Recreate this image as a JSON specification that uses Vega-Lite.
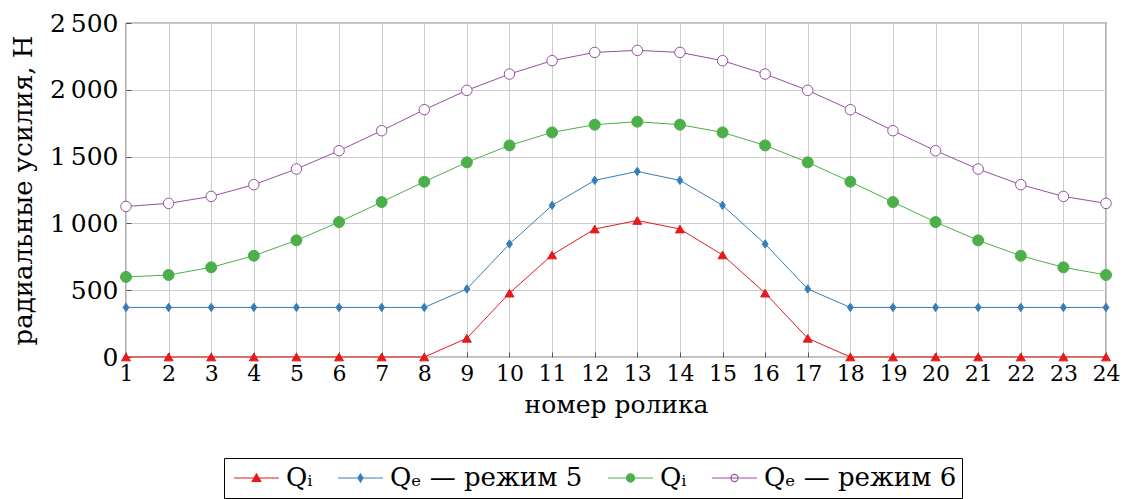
{
  "$schema": "https://vega.github.io/schema/vega-lite/v6.json",
  "width": 980,
  "height": 334,
  "autosize": {"type": "none"},
  "padding": {"left": 126, "top": 23, "right": 17, "bottom": 142},
  "background": "white",
  "config": {
    "font": "DejaVu Serif",
    "view": {"stroke": "black", "strokeWidth": 1.2},
    "axis": {
      "labelFont": "DejaVu Serif",
      "titleFont": "DejaVu Serif",
      "titleFontWeight": "normal",
      "labelColor": "black",
      "titleColor": "black",
      "gridColor": "#cccccc",
      "gridWidth": 1,
      "domain": false,
      "ticks": true,
      "tickSize": -5,
      "tickColor": "#555555",
      "tickWidth": 1
    },
    "legend": {
      "labelFont": "DejaVu Serif",
      "labelFontSize": 26,
      "labelColor": "black"
    }
  },
  "data": {
    "values": [
      {"x": 1, "s": "Qi5", "v": 0}, {"x": 2, "s": "Qi5", "v": 0}, {"x": 3, "s": "Qi5", "v": 0}, {"x": 4, "s": "Qi5", "v": 0},
      {"x": 5, "s": "Qi5", "v": 0}, {"x": 6, "s": "Qi5", "v": 0}, {"x": 7, "s": "Qi5", "v": 0}, {"x": 8, "s": "Qi5", "v": 0},
      {"x": 9, "s": "Qi5", "v": 140}, {"x": 10, "s": "Qi5", "v": 478}, {"x": 11, "s": "Qi5", "v": 764}, {"x": 12, "s": "Qi5", "v": 958},
      {"x": 13, "s": "Qi5", "v": 1022}, {"x": 14, "s": "Qi5", "v": 958}, {"x": 15, "s": "Qi5", "v": 764}, {"x": 16, "s": "Qi5", "v": 478},
      {"x": 17, "s": "Qi5", "v": 140}, {"x": 18, "s": "Qi5", "v": 0}, {"x": 19, "s": "Qi5", "v": 0}, {"x": 20, "s": "Qi5", "v": 0},
      {"x": 21, "s": "Qi5", "v": 0}, {"x": 22, "s": "Qi5", "v": 0}, {"x": 23, "s": "Qi5", "v": 0}, {"x": 24, "s": "Qi5", "v": 0},
      {"x": 1, "s": "Qe5", "v": 371}, {"x": 2, "s": "Qe5", "v": 371}, {"x": 3, "s": "Qe5", "v": 371}, {"x": 4, "s": "Qe5", "v": 371},
      {"x": 5, "s": "Qe5", "v": 371}, {"x": 6, "s": "Qe5", "v": 371}, {"x": 7, "s": "Qe5", "v": 371}, {"x": 8, "s": "Qe5", "v": 371},
      {"x": 9, "s": "Qe5", "v": 509}, {"x": 10, "s": "Qe5", "v": 846}, {"x": 11, "s": "Qe5", "v": 1135}, {"x": 12, "s": "Qe5", "v": 1322},
      {"x": 13, "s": "Qe5", "v": 1389}, {"x": 14, "s": "Qe5", "v": 1322}, {"x": 15, "s": "Qe5", "v": 1135}, {"x": 16, "s": "Qe5", "v": 846},
      {"x": 17, "s": "Qe5", "v": 509}, {"x": 18, "s": "Qe5", "v": 371}, {"x": 19, "s": "Qe5", "v": 371}, {"x": 20, "s": "Qe5", "v": 371},
      {"x": 21, "s": "Qe5", "v": 371}, {"x": 22, "s": "Qe5", "v": 371}, {"x": 23, "s": "Qe5", "v": 371}, {"x": 24, "s": "Qe5", "v": 371},
      {"x": 1, "s": "Qi6", "v": 599}, {"x": 2, "s": "Qi6", "v": 614}, {"x": 3, "s": "Qi6", "v": 671}, {"x": 4, "s": "Qi6", "v": 758},
      {"x": 5, "s": "Qi6", "v": 873}, {"x": 6, "s": "Qi6", "v": 1010}, {"x": 7, "s": "Qi6", "v": 1160}, {"x": 8, "s": "Qi6", "v": 1312},
      {"x": 9, "s": "Qi6", "v": 1457}, {"x": 10, "s": "Qi6", "v": 1584}, {"x": 11, "s": "Qi6", "v": 1681}, {"x": 12, "s": "Qi6", "v": 1739},
      {"x": 13, "s": "Qi6", "v": 1761}, {"x": 14, "s": "Qi6", "v": 1739}, {"x": 15, "s": "Qi6", "v": 1681}, {"x": 16, "s": "Qi6", "v": 1584},
      {"x": 17, "s": "Qi6", "v": 1457}, {"x": 18, "s": "Qi6", "v": 1312}, {"x": 19, "s": "Qi6", "v": 1160}, {"x": 20, "s": "Qi6", "v": 1010},
      {"x": 21, "s": "Qi6", "v": 873}, {"x": 22, "s": "Qi6", "v": 758}, {"x": 23, "s": "Qi6", "v": 671}, {"x": 24, "s": "Qi6", "v": 614},
      {"x": 1, "s": "Qe6", "v": 1127}, {"x": 2, "s": "Qe6", "v": 1150}, {"x": 3, "s": "Qe6", "v": 1202}, {"x": 4, "s": "Qe6", "v": 1290},
      {"x": 5, "s": "Qe6", "v": 1407}, {"x": 6, "s": "Qe6", "v": 1544}, {"x": 7, "s": "Qe6", "v": 1694}, {"x": 8, "s": "Qe6", "v": 1851},
      {"x": 9, "s": "Qe6", "v": 1996}, {"x": 10, "s": "Qe6", "v": 2118}, {"x": 11, "s": "Qe6", "v": 2218}, {"x": 12, "s": "Qe6", "v": 2280},
      {"x": 13, "s": "Qe6", "v": 2295}, {"x": 14, "s": "Qe6", "v": 2280}, {"x": 15, "s": "Qe6", "v": 2218}, {"x": 16, "s": "Qe6", "v": 2118},
      {"x": 17, "s": "Qe6", "v": 1996}, {"x": 18, "s": "Qe6", "v": 1851}, {"x": 19, "s": "Qe6", "v": 1694}, {"x": 20, "s": "Qe6", "v": 1544},
      {"x": 21, "s": "Qe6", "v": 1407}, {"x": 22, "s": "Qe6", "v": 1290}, {"x": 23, "s": "Qe6", "v": 1202}, {"x": 24, "s": "Qe6", "v": 1150}
    ]
  },
  "encoding": {
    "x": {
      "field": "x", "type": "quantitative",
      "scale": {"domain": [1, 24], "nice": false, "zero": false},
      "axis": {
        "title": "номер ролика",
        "values": [1,2,3,4,5,6,7,8,9,10,11,12,13,14,15,16,17,18,19,20,21,22,23,24],
        "format": "d",
        "labelFontSize": 22,
        "titleFontSize": 25,
        "labelPadding": 11,
        "titlePadding": 8,
        "labelFlush": false
      }
    },
    "y": {
      "field": "v", "type": "quantitative",
      "scale": {"domain": [0, 2500], "nice": false},
      "axis": {
        "title": "радиальные усилия, Н",
        "values": [0, 500, 1000, 1500, 2000, 2500],
        "labelExpr": "replace(format(datum.value, ','), ',', '\u2009')",
        "labelFontSize": 25,
        "titleFontSize": 26,
        "labelPadding": 13,
        "titlePadding": 13
      }
    }
  },
  "layer": [
    {
      "mark": {"type": "line", "strokeWidth": 1},
      "encoding": {
        "color": {
          "field": "s", "type": "nominal",
          "scale": {"domain": ["Qi5", "Qe5", "Qi6", "Qe6"], "range": ["#e41a1c", "#377eb8", "#4daf4a", "#984ea3"]},
          "legend": {
            "title": null,
            "orient": "none",
            "legendX": 98,
            "legendY": 435,
            "direction": "horizontal",
            "strokeColor": "black",
            "padding": 5,
            "symbolOffset": 4,
            "symbolSize": 2025,
            "clipHeight": 30,
            "symbolStrokeWidth": 1.2,
            "columnPadding": 20,
            "labelOffset": 6,
            "labelLimit": 400,
            "labelExpr": "datum.value == 'Qi5' ? 'Qᵢ' : datum.value == 'Qe5' ? 'Qₑ — режим 5' : datum.value == 'Qi6' ? 'Qᵢ' : 'Qₑ — режим 6'",
            "encoding": {
              "symbols": {
                "shape": {"value": {"expr": "datum.value == 'Qi5' ? 'M-1,0H1M0,-0.18L0.19,0.15H-0.19Z' : datum.value == 'Qe5' ? 'M-1,0H1M0,-0.18L0.11,0L0,0.18L-0.11,0Z' : datum.value == 'Qi6' ? 'M-1,0H1M0.18,0A0.18,0.18,0,1,1,-0.18,0A0.18,0.18,0,1,1,0.18,0Z' : 'M-1,0H1M0.16,0A0.16,0.16,0,1,1,-0.16,0A0.16,0.16,0,1,1,0.16,0Z'"}},
                "size": {"value": 2025},
                "fill": {"value": {"expr": "datum.value == 'Qi5' ? '#e41a1c' : datum.value == 'Qe5' ? '#377eb8' : datum.value == 'Qi6' ? '#4daf4a' : 'white'"}},
                "stroke": {"value": {"expr": "datum.value == 'Qi5' ? '#e41a1c' : datum.value == 'Qe5' ? '#377eb8' : datum.value == 'Qi6' ? '#4daf4a' : '#984ea3'"}},
                "strokeWidth": {"value": 1.2},
                "opacity": {"value": 1},
                "fillOpacity": {"value": 1},
                "strokeOpacity": {"value": 1}
              }
            }
          }
        }
      }
    },
    {
      "transform": [{"filter": "datum.s == 'Qi5'"}],
      "mark": {"type": "point", "shape": "triangle-up", "size": 80, "filled": true, "fill": "#e41a1c", "stroke": "#e41a1c", "strokeWidth": 1, "opacity": 1}
    },
    {
      "transform": [{"filter": "datum.s == 'Qe5'"}],
      "mark": {"type": "point", "shape": "M0,-1.3L0.9,0L0,1.3L-0.9,0Z", "size": 42, "filled": true, "fill": "#377eb8", "stroke": "#377eb8", "strokeWidth": 1, "opacity": 1}
    },
    {
      "transform": [{"filter": "datum.s == 'Qi6'"}],
      "mark": {"type": "point", "shape": "circle", "size": 121, "filled": true, "fill": "#4daf4a", "stroke": "#4daf4a", "strokeWidth": 1, "opacity": 1}
    },
    {
      "transform": [{"filter": "datum.s == 'Qe6'"}],
      "mark": {"type": "point", "shape": "circle", "size": 110, "filled": false, "fill": "white", "stroke": "#984ea3", "strokeWidth": 1, "opacity": 1}
    }
  ]
}
